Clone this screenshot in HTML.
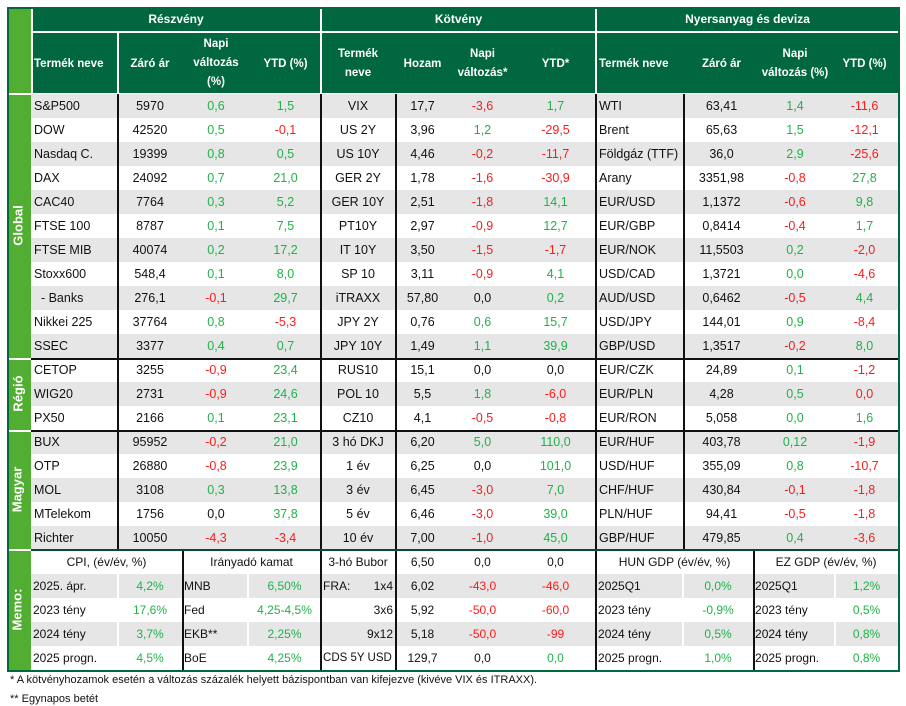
<!DOCTYPE html>
<html><head><meta charset="utf-8">
<style>
*{margin:0;padding:0;box-sizing:border-box}
body{width:906px;height:706px;background:#fff;font-family:"Liberation Sans",sans-serif;font-size:12.5px;color:#111;position:relative;overflow:hidden}
.a{position:absolute}
table{position:absolute;border-collapse:collapse;table-layout:fixed}
td{height:24px;padding:0 3px;white-space:nowrap;text-align:center;overflow:hidden}
tr.g td{background:#e6e6e6}
td.l{text-align:left}
td.r{text-align:right}
.p{color:#20b24a}.n{color:#ff1a1a}
.hd{background:#00673f;color:#fff;font-weight:bold;font-size:12px;text-align:center}
.side{background:#52ae32;color:#fff;font-weight:bold;font-size:13px}
.rot{position:absolute;transform:rotate(-90deg);white-space:nowrap}
.vl{position:absolute;width:1.5px;background:#111}
.wl{position:absolute;width:2px;background:#fff}
.hl{position:absolute;height:2px;background:#111}
.hdt td{padding:0 1px}
.memo td{padding:0 2px;font-size:12px}
</style></head><body>
<!-- header -->
<div class="a hd" style="left:8px;top:8px;width:891px;height:86px"></div>
<div class="a side" style="left:8px;top:8px;width:23px;height:86px"></div>
<div class="a hd" style="left:31px;top:8px;width:290px;height:23px;line-height:23px">Részvény</div>
<div class="a hd" style="left:321px;top:8px;width:275px;height:23px;line-height:23px">Kötvény</div>
<div class="a hd" style="left:596px;top:8px;width:303px;height:23px;line-height:23px">Nyersanyag és deviza</div>
<div class="a" style="left:31px;top:31px;width:868px;height:2px;background:#fff"></div>
<table class="hdt" style="left:31px;top:33px;width:868px;color:#fff;font-weight:bold;font-size:11.5px">
<colgroup><col style="width:87px"><col style="width:64px"><col style="width:68px"><col style="width:71px"><col style="width:74px"><col style="width:55px"><col style="width:65px"><col style="width:81px"><col style="width:87px"><col style="width:77px"><col style="width:70px"><col style="width:69px"></colgroup>
<tr><td class="l" style="height:61px;padding-left:3px">Termék neve</td><td>Záró ár</td><td style="line-height:19px">Napi<br>változás<br>(%)</td><td>YTD (%)</td><td style="line-height:19px">Termék<br>neve</td><td>Hozam</td><td style="line-height:19px">Napi<br>változás*</td><td>YTD*</td><td class="l" style="padding-left:3px">Termék neve</td><td>Záró ár</td><td style="line-height:19px">Napi<br>változás (%)</td><td>YTD (%)</td></tr>
</table>
<div class="wl" style="left:31px;top:8px;height:86px"></div>
<div class="wl" style="left:320px;top:8px;height:86px"></div>
<div class="wl" style="left:595px;top:8px;height:86px"></div>
<div class="wl" style="left:117px;top:33px;height:61px"></div>
<div class="a" style="left:8px;top:93px;width:891px;height:2px;background:#fff"></div>

<!-- data -->
<table style="left:31px;top:94px;width:868px">
<colgroup><col style="width:87px"><col style="width:64px"><col style="width:68px"><col style="width:71px"><col style="width:74px"><col style="width:55px"><col style="width:65px"><col style="width:81px"><col style="width:87px"><col style="width:77px"><col style="width:70px"><col style="width:69px"></colgroup>
<tr class="g"><td class="l">S&amp;P500</td><td>5970</td><td class="p">0,6</td><td class="p">1,5</td><td>VIX</td><td>17,7</td><td class="n">-3,6</td><td class="p">1,7</td><td class="l">WTI</td><td>63,41</td><td class="p">1,4</td><td class="n">-11,6</td></tr>
<tr><td class="l">DOW</td><td>42520</td><td class="p">0,5</td><td class="n">-0,1</td><td>US 2Y</td><td>3,96</td><td class="p">1,2</td><td class="n">-29,5</td><td class="l">Brent</td><td>65,63</td><td class="p">1,5</td><td class="n">-12,1</td></tr>
<tr class="g"><td class="l">Nasdaq C.</td><td>19399</td><td class="p">0,8</td><td class="p">0,5</td><td>US 10Y</td><td>4,46</td><td class="n">-0,2</td><td class="n">-11,7</td><td class="l">Földgáz (TTF)</td><td>36,0</td><td class="p">2,9</td><td class="n">-25,6</td></tr>
<tr><td class="l">DAX</td><td>24092</td><td class="p">0,7</td><td class="p">21,0</td><td>GER 2Y</td><td>1,78</td><td class="n">-1,6</td><td class="n">-30,9</td><td class="l">Arany</td><td>3351,98</td><td class="n">-0,8</td><td class="p">27,8</td></tr>
<tr class="g"><td class="l">CAC40</td><td>7764</td><td class="p">0,3</td><td class="p">5,2</td><td>GER 10Y</td><td>2,51</td><td class="n">-1,8</td><td class="p">14,1</td><td class="l">EUR/USD</td><td>1,1372</td><td class="n">-0,6</td><td class="p">9,8</td></tr>
<tr><td class="l">FTSE 100</td><td>8787</td><td class="p">0,1</td><td class="p">7,5</td><td>PT10Y</td><td>2,97</td><td class="n">-0,9</td><td class="p">12,7</td><td class="l">EUR/GBP</td><td>0,8414</td><td class="n">-0,4</td><td class="p">1,7</td></tr>
<tr class="g"><td class="l">FTSE MIB</td><td>40074</td><td class="p">0,2</td><td class="p">17,2</td><td>IT 10Y</td><td>3,50</td><td class="n">-1,5</td><td class="n">-1,7</td><td class="l">EUR/NOK</td><td>11,5503</td><td class="p">0,2</td><td class="n">-2,0</td></tr>
<tr><td class="l">Stoxx600</td><td>548,4</td><td class="p">0,1</td><td class="p">8,0</td><td>SP 10</td><td>3,11</td><td class="n">-0,9</td><td class="p">4,1</td><td class="l">USD/CAD</td><td>1,3721</td><td class="p">0,0</td><td class="n">-4,6</td></tr>
<tr class="g"><td class="l">&nbsp; - Banks</td><td>276,1</td><td class="n">-0,1</td><td class="p">29,7</td><td>iTRAXX</td><td>57,80</td><td>0,0</td><td class="p">0,2</td><td class="l">AUD/USD</td><td>0,6462</td><td class="n">-0,5</td><td class="p">4,4</td></tr>
<tr><td class="l">Nikkei 225</td><td>37764</td><td class="p">0,8</td><td class="n">-5,3</td><td>JPY 2Y</td><td>0,76</td><td class="p">0,6</td><td class="p">15,7</td><td class="l">USD/JPY</td><td>144,01</td><td class="p">0,9</td><td class="n">-8,4</td></tr>
<tr class="g"><td class="l">SSEC</td><td>3377</td><td class="p">0,4</td><td class="p">0,7</td><td>JPY 10Y</td><td>1,49</td><td class="p">1,1</td><td class="p">39,9</td><td class="l">GBP/USD</td><td>1,3517</td><td class="n">-0,2</td><td class="p">8,0</td></tr>
<tr><td class="l">CETOP</td><td>3255</td><td class="n">-0,9</td><td class="p">23,4</td><td>RUS10</td><td>15,1</td><td>0,0</td><td>0,0</td><td class="l">EUR/CZK</td><td>24,89</td><td class="p">0,1</td><td class="n">-1,2</td></tr>
<tr class="g"><td class="l">WIG20</td><td>2731</td><td class="n">-0,9</td><td class="p">24,6</td><td>POL 10</td><td>5,5</td><td class="p">1,8</td><td class="n">-6,0</td><td class="l">EUR/PLN</td><td>4,28</td><td class="p">0,5</td><td class="n">0,0</td></tr>
<tr><td class="l">PX50</td><td>2166</td><td class="p">0,1</td><td class="p">23,1</td><td>CZ10</td><td>4,1</td><td class="n">-0,5</td><td class="n">-0,8</td><td class="l">EUR/RON</td><td>5,058</td><td class="p">0,0</td><td class="p">1,6</td></tr>
<tr class="g"><td class="l">BUX</td><td>95952</td><td class="n">-0,2</td><td class="p">21,0</td><td>3 hó DKJ</td><td>6,20</td><td class="p">5,0</td><td class="p">110,0</td><td class="l">EUR/HUF</td><td>403,78</td><td class="p">0,12</td><td class="n">-1,9</td></tr>
<tr><td class="l">OTP</td><td>26880</td><td class="n">-0,8</td><td class="p">23,9</td><td>1 év</td><td>6,25</td><td>0,0</td><td class="p">101,0</td><td class="l">USD/HUF</td><td>355,09</td><td class="p">0,8</td><td class="n">-10,7</td></tr>
<tr class="g"><td class="l">MOL</td><td>3108</td><td class="p">0,3</td><td class="p">13,8</td><td>3 év</td><td>6,45</td><td class="n">-3,0</td><td class="p">7,0</td><td class="l">CHF/HUF</td><td>430,84</td><td class="n">-0,1</td><td class="n">-1,8</td></tr>
<tr><td class="l">MTelekom</td><td>1756</td><td>0,0</td><td class="p">37,8</td><td>5 év</td><td>6,46</td><td class="n">-3,0</td><td class="p">39,0</td><td class="l">PLN/HUF</td><td>94,41</td><td class="n">-0,5</td><td class="n">-1,8</td></tr>
<tr class="g"><td class="l">Richter</td><td>10050</td><td class="n">-4,3</td><td class="n">-3,4</td><td>10 év</td><td>7,00</td><td class="n">-1,0</td><td class="p">45,0</td><td class="l">GBP/HUF</td><td>479,85</td><td class="p">0,4</td><td class="n">-3,6</td></tr>
</table>

<!-- memo -->
<table class="memo" style="left:31px;top:550px;width:868px">
<colgroup><col style="width:87px"><col style="width:64px"><col style="width:66px"><col style="width:73px"><col style="width:74px"><col style="width:55px"><col style="width:65px"><col style="width:81px"><col style="width:87px"><col style="width:70px"><col style="width:81px"><col style="width:65px"></colgroup>
<tr><td colspan="2">CPI, (év/év, %)</td><td colspan="2">Irányadó kamat</td><td>3-hó Bubor</td><td>6,50</td><td>0,0</td><td>0,0</td><td colspan="2">HUN GDP (év/év, %)</td><td colspan="2">EZ GDP (év/év, %)</td></tr>
<tr class="g"><td class="l">2025. ápr.</td><td class="p">4,2%</td><td class="l">MNB</td><td class="p">6,50%</td><td class="l">FRA:<span style="float:right">1x4</span></td><td>6,02</td><td class="n">-43,0</td><td class="n">-46,0</td><td class="l">2025Q1</td><td class="p">0,0%</td><td class="l">2025Q1</td><td class="p">1,2%</td></tr>
<tr><td class="l">2023 tény</td><td class="p">17,6%</td><td class="l">Fed</td><td class="p">4,25-4,5%</td><td class="r">3x6</td><td>5,92</td><td class="n">-50,0</td><td class="n">-60,0</td><td class="l">2023 tény</td><td class="p">-0,9%</td><td class="l">2023 tény</td><td class="p">0,5%</td></tr>
<tr class="g"><td class="l">2024 tény</td><td class="p">3,7%</td><td class="l">EKB**</td><td class="p">2,25%</td><td class="r">9x12</td><td>5,18</td><td class="n">-50,0</td><td class="n">-99</td><td class="l">2024 tény</td><td class="p">0,5%</td><td class="l">2024 tény</td><td class="p">0,8%</td></tr>
<tr><td class="l">2025 progn.</td><td class="p">4,5%</td><td class="l">BoE</td><td class="p">4,25%</td><td class="l" style="font-size:11.5px">CDS 5Y USD</td><td>129,7</td><td>0,0</td><td class="p">0,0</td><td class="l">2025 progn.</td><td class="p">1,0%</td><td class="l">2025 progn.</td><td class="p">0,8%</td></tr>
</table>
<div class="wl" style="left:117px;top:574px;height:96px"></div>
<div class="wl" style="left:247px;top:574px;height:96px"></div>
<div class="wl" style="left:682px;top:574px;height:96px"></div>
<div class="wl" style="left:834px;top:574px;height:96px"></div>

<!-- sidebar -->
<div class="a side" style="left:8px;top:95px;width:23px;height:575px"></div>
<div class="a" style="left:8px;top:358px;width:23px;height:2px;background:#fff"></div>
<div class="a" style="left:8px;top:430px;width:23px;height:2px;background:#fff"></div>
<div class="a" style="left:8px;top:549px;width:23px;height:2px;background:#fff"></div>
<div class="a side" style="left:8px;top:214px;width:23px;height:24px;background:none"><span class="rot" style="left:-10px;top:4px">Global</span></div>
<div class="a side" style="left:8px;top:382px;width:23px;height:24px;background:none"><span class="rot" style="left:-8px;top:4px">Régió</span></div>
<div class="a side" style="left:8px;top:478px;width:23px;height:24px;background:none"><span class="rot" style="left:-14px;top:4px">Magyar</span></div>
<div class="a side" style="left:8px;top:598px;width:23px;height:24px;background:none"><span class="rot" style="left:-12px;top:4px">Memo:</span></div>

<!-- lines -->
<div class="vl" style="left:117px;top:94px;height:456px"></div>
<div class="vl" style="left:320px;top:94px;height:576px"></div>
<div class="vl" style="left:395px;top:94px;height:576px"></div>
<div class="vl" style="left:595px;top:94px;height:576px"></div>
<div class="vl" style="left:683px;top:94px;height:456px"></div>
<div class="vl" style="left:182px;top:550px;height:120px"></div>
<div class="vl" style="left:753px;top:550px;height:120px"></div>
<div class="hl" style="left:31px;top:358px;width:868px"></div>
<div class="hl" style="left:31px;top:430px;width:868px"></div>
<div class="hl" style="left:31px;top:549px;width:868px;background:#0c4a30"></div>
<div class="a" style="left:7px;top:7px;width:893px;height:665px;border:2px solid #00673f"></div>

<div class="a" style="left:10px;top:674px;font-size:11px">* A kötvényhozamok esetén a változás százalék helyett bázispontban van kifejezve (kivéve VIX és ITRAXX).</div>
<div class="a" style="left:10px;top:693px;font-size:11px">** Egynapos betét</div>
</body></html>
